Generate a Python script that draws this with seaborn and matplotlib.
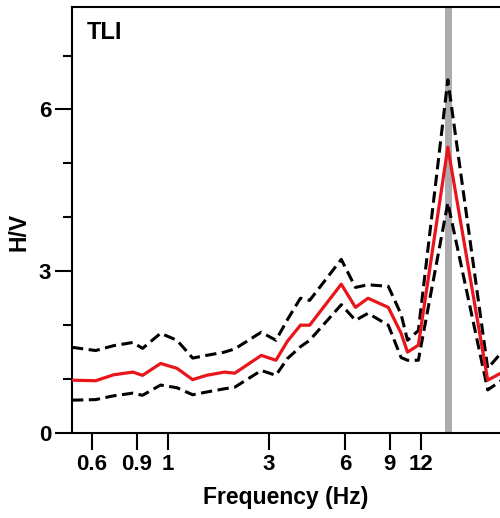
import numpy as np
import pandas as pd
import seaborn as sns
import matplotlib
matplotlib.use("Agg")
import matplotlib.pyplot as plt
from matplotlib.ticker import FixedLocator, NullLocator, MultipleLocator

# H/V spectral ratio
freq = [0.5, 0.62, 0.73, 0.87, 0.95, 1.12, 1.3, 1.5, 1.7, 2.0, 2.2, 2.8, 3.2, 3.55,
        4.0, 4.35, 5.8, 6.6, 7.4, 8.9, 10.0, 10.6, 11.7, 15.3, 22.0, 25.0]
hv_mean = [0.98, 0.97, 1.08, 1.13, 1.07, 1.29, 1.20, 0.99, 1.07, 1.13, 1.11, 1.44, 1.35, 1.70,
           2.00, 2.00, 2.76, 2.33, 2.50, 2.33, 1.85, 1.50, 1.63, 5.30, 0.98, 1.12]
hv_upper = [1.59, 1.53, 1.62, 1.68, 1.57, 1.85, 1.72, 1.39, 1.44, 1.50, 1.56, 1.87, 1.72, 2.10,
            2.50, 2.46, 3.22, 2.70, 2.75, 2.72, 2.20, 1.72, 1.90, 6.55, 1.20, 1.50]
hv_lower = [0.61, 0.62, 0.69, 0.74, 0.70, 0.89, 0.84, 0.71, 0.76, 0.82, 0.85, 1.16, 1.07, 1.38,
            1.60, 1.72, 2.38, 2.09, 2.22, 2.00, 1.40, 1.35, 1.35, 4.27, 0.80, 0.98]
peak_freq = 15.3

xtick_pos = [0.6, 0.9, 1.2, 3, 6, 9, 12]
xtick_labels = ["0.6", "0.9", "1", "3", "6", "9", "12"]
ytick_pos = [0, 3, 6]

df = pd.DataFrame({"freq": freq, "mean": hv_mean, "upper": hv_upper, "lower": hv_lower})

sns.set_style("ticks")
plt.rcParams["font.family"] = ["Liberation Sans", "DejaVu Sans"]
plt.rcParams["font.weight"] = "bold"
plt.rcParams["text.color"] = "black"
plt.rcParams["axes.labelcolor"] = "black"
plt.rcParams["xtick.color"] = "black"
plt.rcParams["ytick.color"] = "black"

fig = plt.figure(figsize=(5.0, 5.18), dpi=100)
ax = fig.add_axes([0.144, 0.164, 0.856, 0.8225])

ax.axvline(peak_freq, color="#ababb0", lw=5, zorder=1)

dash = (0, (3.7, 1.8))
sns.lineplot(data=df, x="freq", y="upper", color="black", lw=2.2, linestyle=dash, ax=ax, zorder=3)
sns.lineplot(data=df, x="freq", y="lower", color="black", lw=2.2, linestyle=dash, ax=ax, zorder=3)
sns.lineplot(data=df, x="freq", y="mean", color="#e8151b", lw=2.3, ax=ax, zorder=4)

ax.set_xscale("log")
ax.set_xlim(0.5, 24.6)
ax.set_ylim(0, 7.9)

ax.xaxis.set_major_locator(FixedLocator(xtick_pos))
ax.set_xticklabels(xtick_labels)
ax.xaxis.set_minor_locator(NullLocator())
ax.yaxis.set_major_locator(FixedLocator(ytick_pos))
ax.yaxis.set_minor_locator(MultipleLocator(1))

ax.tick_params(axis="both", which="major", length=12, width=1.5, labelsize=16, pad=3,
               direction="out", colors="black")
ax.tick_params(axis="y", which="minor", length=6.5, width=1.5, direction="out", colors="black")
for lab in ax.get_xticklabels() + ax.get_yticklabels():
    lab.set_fontweight("bold")

for side in ["left", "top", "bottom"]:
    ax.spines[side].set_linewidth(1.5)
    ax.spines[side].set_color("black")
ax.spines["right"].set_visible(False)

ax.set_xlabel("Frequency (Hz)", fontsize=16.5, fontweight="bold", color="black")
ax.set_ylabel("H/V", fontsize=16.5, fontweight="bold", color="black")
ax.xaxis.set_label_coords(0.5, -0.125)
ax.yaxis.set_label_coords(-0.097, 0.472)

ax.text(0.035, 0.94, "TLI", transform=ax.transAxes, fontsize=17, fontweight="bold",
        va="center", ha="left", color="black")

fig.savefig("out.png", dpi=100)
